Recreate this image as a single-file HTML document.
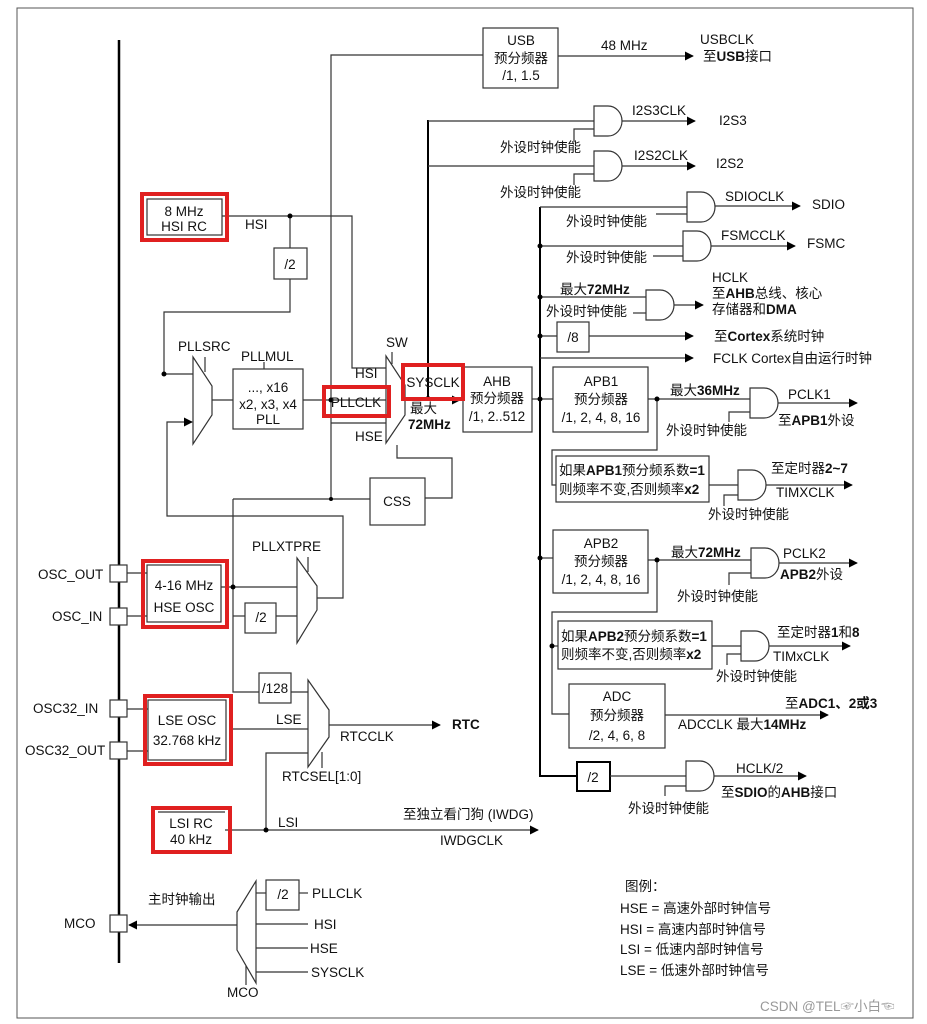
<!DOCTYPE html>
<html><head><meta charset="utf-8"><style>
html,body{margin:0;padding:0;background:#fff}
svg{display:block}
text{font-family:"Liberation Sans","Noto Sans CJK SC",sans-serif;font-size:13.5px;fill:#111}
.b{font-weight:bold}
</style></head><body>
<svg width="927" height="1024" viewBox="0 0 927 1024" xmlns="http://www.w3.org/2000/svg">
<defs>
<marker id="a" viewBox="0 0 10 10" refX="9" refY="5" markerWidth="9" markerHeight="9" orient="auto" markerUnits="userSpaceOnUse"><path d="M0,0 L10,5 L0,10 z" fill="#000"/></marker>
<g id="gate"><path d="M0,0 L14,0 A14,15 0 0 1 14,30 L0,30 Z" fill="#fff" stroke="#333" stroke-width="1.2"/></g>
</defs>
<rect x="17" y="8" width="896" height="1010" fill="none" stroke="#555" stroke-width="1"/>
<g stroke="#333" stroke-width="1.2" fill="none">
<line x1="119" y1="40" x2="119" y2="963" stroke="#000" stroke-width="2.5"/>
<rect x="147" y="199" width="75" height="36" fill="#fff"/>
<polyline points="222,216 352,216 352,368 386,368"/>
<polyline points="290,216 290,248"/>
<rect x="274" y="248" width="33" height="31" fill="#fff"/>
<polyline points="290,279 290,312 164,312 164,374 193,374"/>
<polygon points="193,357 212,386 212,415 193,444" fill="#fff"/>
<line x1="205" y1="357" x2="205" y2="372"/>
<polyline points="317,598 343,598 343,516 167,516 167,422 192,422" marker-end="url(#a)"/>
<line x1="212" y1="400" x2="233" y2="400"/>
<rect x="233" y="369" width="70" height="60" fill="#fff"/>
<line x1="264" y1="362" x2="264" y2="369"/>
<line x1="303" y1="400" x2="386" y2="400"/>
<polyline points="331,499 331,55 483,55"/>
<rect x="483" y="28" width="75" height="60" fill="#fff"/>
<line x1="558" y1="56" x2="693" y2="56" marker-end="url(#a)"/>
<line x1="331" y1="423" x2="386" y2="423"/>
<line x1="233" y1="499" x2="370" y2="499"/>
<polygon points="386,356 405,385 405,415 386,443" fill="#fff"/>
<line x1="392" y1="352" x2="392" y2="364"/>
<line x1="405" y1="400" x2="460" y2="400" marker-end="url(#a)"/>
<line x1="428" y1="120" x2="428" y2="398" stroke="#000" stroke-width="2"/>
<line x1="428" y1="121" x2="594" y2="121"/>
<line x1="428" y1="166" x2="594" y2="166"/>
<rect x="370" y="478" width="55" height="47" fill="#fff"/>
<polyline points="397,445 397,458 452,458 452,498 425,498"/>
<rect x="463" y="367" width="69" height="65" fill="#fff"/>
<line x1="532" y1="399" x2="540" y2="399"/>
<polyline points="540,207 540,776 577,776" stroke="#000" stroke-width="2"/>
<line x1="540" y1="207" x2="687" y2="207"/>
<line x1="540" y1="246" x2="683" y2="246"/>
<line x1="540" y1="297" x2="646" y2="297"/>
<line x1="540" y1="336" x2="557" y2="336"/>
<rect x="557" y="322" width="32" height="30" fill="#fff"/>
<line x1="589" y1="336" x2="693" y2="336" marker-end="url(#a)"/>
<line x1="540" y1="358" x2="693" y2="358" marker-end="url(#a)"/>
<line x1="540" y1="399" x2="553" y2="399"/>
<line x1="621" y1="121" x2="695" y2="121" marker-end="url(#a)"/>
<polyline points="574,142 574,129 594,129"/>
<line x1="621" y1="166" x2="695" y2="166" marker-end="url(#a)"/>
<polyline points="574,185 574,174 594,174"/>
<line x1="713" y1="206" x2="800" y2="206" marker-end="url(#a)"/>
<line x1="656" y1="214" x2="687" y2="214"/>
<line x1="711" y1="246" x2="795" y2="246" marker-end="url(#a)"/>
<line x1="653" y1="256" x2="683" y2="256"/>
<line x1="674" y1="305" x2="703" y2="305" marker-end="url(#a)"/>
<line x1="633" y1="313" x2="646" y2="313"/>
<rect x="553" y="367" width="95" height="65" fill="#fff"/>
<line x1="648" y1="399" x2="750" y2="399"/>
<line x1="777" y1="403" x2="857" y2="403" marker-end="url(#a)"/>
<polyline points="729,422 729,412 750,412"/>
<polyline points="657,399 657,450 552,450 552,485 556,485"/>
<rect x="556" y="456" width="153" height="46" fill="#fff"/>
<line x1="709" y1="485" x2="738" y2="485"/>
<line x1="765" y1="485" x2="852" y2="485" marker-end="url(#a)"/>
<polyline points="724,506 724,495 738,495"/>
<line x1="540" y1="558" x2="553" y2="558"/>
<rect x="553" y="530" width="95" height="63" fill="#fff"/>
<line x1="648" y1="560" x2="751" y2="560"/>
<line x1="778" y1="563" x2="857" y2="563" marker-end="url(#a)"/>
<polyline points="729,585 729,573 751,573"/>
<polyline points="657,560 657,612 552,612 552,714 569,714"/>
<line x1="552" y1="646" x2="558" y2="646"/>
<rect x="558" y="621" width="154" height="48" fill="#fff"/>
<line x1="712" y1="646" x2="741" y2="646"/>
<line x1="766" y1="646" x2="850" y2="646" marker-end="url(#a)"/>
<polyline points="727,665 727,654 741,654"/>
<rect x="569" y="684" width="96" height="64" fill="#fff"/>
<line x1="665" y1="715" x2="828" y2="715" marker-end="url(#a)"/>
<rect x="577" y="762" width="33" height="29" fill="#fff" stroke="#000" stroke-width="2"/>
<line x1="610" y1="776" x2="686" y2="776"/>
<line x1="713" y1="776" x2="806" y2="776" marker-end="url(#a)"/>
<polyline points="665,796 665,786 686,786"/>
<rect x="110" y="565" width="17" height="17" fill="#fff"/>
<rect x="110" y="608" width="17" height="17" fill="#fff"/>
<line x1="127" y1="573" x2="147" y2="573"/>
<line x1="127" y1="616" x2="147" y2="616"/>
<rect x="147" y="565" width="74" height="57" fill="#fff"/>
<line x1="221" y1="587" x2="298" y2="587"/>
<polyline points="233,499 233,692 259,692"/>
<line x1="233" y1="616" x2="245" y2="616"/>
<rect x="245" y="603" width="31" height="30" fill="#fff"/>
<line x1="276" y1="616" x2="298" y2="616"/>
<polygon points="297,558 317,586 317,610 297,643" fill="#fff"/>
<line x1="308" y1="557" x2="308" y2="572"/>
<rect x="259" y="673" width="32" height="30" fill="#fff"/>
<line x1="291" y1="692" x2="309" y2="692"/>
<rect x="110" y="700" width="17" height="17" fill="#fff"/>
<rect x="110" y="742" width="17" height="17" fill="#fff"/>
<line x1="127" y1="709" x2="148" y2="709"/>
<line x1="127" y1="751" x2="148" y2="751"/>
<rect x="148" y="700" width="78" height="60" fill="#fff"/>
<line x1="231" y1="729" x2="309" y2="729"/>
<polygon points="308,680 329,710 329,737 308,767" fill="#fff"/>
<line x1="329" y1="725" x2="440" y2="725" marker-end="url(#a)"/>
<polyline points="266,830 266,753 308,753"/>
<line x1="322" y1="752" x2="322" y2="768"/>
<line x1="158" y1="812" x2="225" y2="812"/>
<line x1="225" y1="830" x2="538" y2="830" marker-end="url(#a)"/>
<rect x="110" y="915" width="17" height="17" fill="#fff"/>
<line x1="237" y1="925" x2="129" y2="925" marker-end="url(#a)"/>
<polygon points="237,912 256,881 256,983 237,950" fill="#fff"/>
<line x1="246" y1="966" x2="246" y2="985"/>
<line x1="256" y1="893" x2="266" y2="893"/>
<rect x="266" y="880" width="33" height="30" fill="#fff"/>
<line x1="299" y1="893" x2="308" y2="893"/>
<line x1="256" y1="924" x2="308" y2="924"/>
<line x1="256" y1="948" x2="308" y2="948"/>
<line x1="256" y1="972" x2="308" y2="972"/>
</g>
<use href="#gate" x="594" y="106"/>
<use href="#gate" x="594" y="151"/>
<use href="#gate" x="687" y="192"/>
<use href="#gate" x="683" y="231"/>
<use href="#gate" x="646" y="290"/>
<use href="#gate" x="750" y="388"/>
<use href="#gate" x="738" y="470"/>
<use href="#gate" x="751" y="548"/>
<use href="#gate" x="741" y="631"/>
<use href="#gate" x="686" y="761"/>
<g fill="#000">
<circle cx="290" cy="216" r="2.5"/><circle cx="164" cy="374" r="2.5"/><circle cx="331" cy="400" r="2.5"/>
<circle cx="331" cy="499" r="2"/><circle cx="540" cy="399" r="2.5"/><circle cx="540" cy="246" r="2.5"/>
<circle cx="540" cy="297" r="2.5"/><circle cx="540" cy="336" r="2.5"/><circle cx="540" cy="558" r="2.5"/>
<circle cx="657" cy="399" r="2.5"/><circle cx="657" cy="560" r="2.5"/><circle cx="552" cy="646" r="2.5"/>
<circle cx="233" cy="587" r="2.5"/><circle cx="266" cy="830" r="2.5"/><circle cx="428" cy="398" r="2"/>
</g>
<g fill="none" stroke="#e02020" stroke-width="4">
<rect x="142" y="194" width="85" height="46"/>
<rect x="324" y="387" width="65" height="29"/>
<rect x="403" y="365" width="60" height="34"/>
<rect x="143" y="561" width="84" height="66"/>
<rect x="145" y="696" width="86" height="68"/>
<rect x="153" y="808" width="77" height="44"/>
</g>
<g text-anchor="middle">
<text x="184" y="216">8 MHz</text><text x="184" y="231">HSI RC</text>
<text x="290" y="269">/2</text>
<text x="268" y="392">..., x16</text><text x="268" y="409">x2, x3, x4</text><text x="268" y="424">PLL</text>
<text x="521" y="45">USB</text><text x="521" y="63">预分频器</text><text x="521" y="80">/1, 1.5</text>
<text x="356" y="407">PLLCLK</text><text x="433" y="387">SYSCLK</text>
<text x="397" y="506" font-size="14">CSS</text>
<text x="497" y="386">AHB</text><text x="497" y="403">预分频器</text><text x="497" y="421">/1, 2..512</text>
<text x="573" y="342">/8</text>
<text x="601" y="386">APB1</text><text x="601" y="404">预分频器</text><text x="601" y="422">/1, 2, 4, 8, 16</text>
<text x="601" y="548">APB2</text><text x="601" y="566">预分频器</text><text x="601" y="584">/1, 2, 4, 8, 16</text>
<text x="617" y="701">ADC</text><text x="617" y="720">预分频器</text><text x="617" y="740">/2, 4, 6, 8</text>
<text x="593" y="782">/2</text>
<text x="184" y="590">4-16 MHz</text><text x="184" y="612">HSE OSC</text>
<text x="261" y="622">/2</text><text x="275" y="693">/128</text>
<text x="187" y="725">LSE OSC</text><text x="187" y="745">32.768 kHz</text>
<text x="191" y="828">LSI RC</text><text x="191" y="844">40 kHz</text>
<text x="283" y="899">/2</text>
</g>
<text x="245" y="229">HSI</text>
<text x="178" y="351">PLLSRC</text><text x="241" y="361">PLLMUL</text>
<text x="386" y="347">SW</text>
<text x="355" y="378">HSI</text><text x="355" y="441">HSE</text>
<text x="410" y="413">最大</text><text x="408" y="429" class="b">72MHz</text>
<text x="601" y="50" font-size="12">48 MHz</text>
<text x="700" y="44">USBCLK</text><text x="703" y="61">至<tspan class="b">USB</tspan>接口</text>
<text x="632" y="115">I2S3CLK</text><text x="719" y="125">I2S3</text>
<text x="500" y="152">外设时钟使能</text>
<text x="634" y="160">I2S2CLK</text><text x="716" y="168">I2S2</text>
<text x="500" y="197">外设时钟使能</text>
<text x="725" y="201">SDIOCLK</text><text x="812" y="209">SDIO</text>
<text x="566" y="226">外设时钟使能</text>
<text x="721" y="240">FSMCCLK</text><text x="807" y="248">FSMC</text>
<text x="566" y="262">外设时钟使能</text>
<text x="560" y="294">最大<tspan class="b">72MHz</tspan></text>
<text x="546" y="316">外设时钟使能</text>
<text x="712" y="282">HCLK</text><text x="712" y="298">至<tspan class="b">AHB</tspan>总线、核心</text><text x="712" y="314">存储器和<tspan class="b">DMA</tspan></text>
<text x="714" y="341">至<tspan class="b">Cortex</tspan>系统时钟</text>
<text x="713" y="363">FCLK Cortex自由运行时钟</text>
<text x="670" y="395">最大<tspan class="b">36MHz</tspan></text>
<text x="788" y="399">PCLK1</text><text x="778" y="425">至<tspan class="b">APB1</tspan>外设</text>
<text x="666" y="435">外设时钟使能</text>
<text x="559" y="475">如果<tspan class="b">APB1</tspan>预分频系数<tspan class="b">=1</tspan></text>
<text x="559" y="494">则频率不变,否则频率<tspan class="b">x2</tspan></text>
<text x="771" y="473">至定时器<tspan class="b">2~7</tspan></text><text x="776" y="497">TIMXCLK</text>
<text x="708" y="519">外设时钟使能</text>
<text x="671" y="557">最大<tspan class="b">72MHz</tspan></text>
<text x="783" y="558">PCLK2</text><text x="780" y="579" class="b">APB2<tspan font-weight="normal">外设</tspan></text>
<text x="677" y="601">外设时钟使能</text>
<text x="561" y="641">如果<tspan class="b">APB2</tspan>预分频系数<tspan class="b">=1</tspan></text>
<text x="561" y="659">则频率不变,否则频率<tspan class="b">x2</tspan></text>
<text x="777" y="637">至定时器<tspan class="b">1</tspan>和<tspan class="b">8</tspan></text><text x="773" y="661">TIMxCLK</text>
<text x="716" y="681">外设时钟使能</text>
<text x="785" y="708" font-size="12">至<tspan class="b">ADC1、2或3</tspan></text>
<text x="678" y="729">ADCCLK  最大<tspan class="b">14MHz</tspan></text>
<text x="736" y="773">HCLK/2</text><text x="721" y="797">至<tspan class="b">SDIO</tspan>的<tspan class="b">AHB</tspan>接口</text>
<text x="628" y="813">外设时钟使能</text>
<text x="252" y="551">PLLXTPRE</text>
<text x="38" y="579">OSC_OUT</text><text x="52" y="621">OSC_IN</text>
<text x="33" y="713">OSC32_IN</text><text x="25" y="755">OSC32_OUT</text>
<text x="276" y="724">LSE</text>
<text x="340" y="741">RTCCLK</text><text x="452" y="729" class="b" font-size="14">RTC</text>
<text x="282" y="781">RTCSEL[1:0]</text>
<text x="278" y="827">LSI</text>
<text x="403" y="819">至独立看门狗  (IWDG)</text><text x="440" y="845">IWDGCLK</text>
<text x="64" y="928">MCO</text><text x="148" y="904">主时钟输出</text>
<text x="312" y="898">PLLCLK</text><text x="314" y="929">HSI</text><text x="310" y="953">HSE</text><text x="311" y="977">SYSCLK</text>
<text x="227" y="997">MCO</text>
<text x="625" y="891">图例：</text>
<text x="620" y="913">HSE = 高速外部时钟信号</text>
<text x="620" y="934">HSI = 高速内部时钟信号</text>
<text x="620" y="954">LSI = 低速内部时钟信号</text>
<text x="620" y="975">LSE = 低速外部时钟信号</text>
<text x="760" y="1011" style="fill:#999">CSDN @TEL☞小白☜</text>
</svg>
</body></html>
